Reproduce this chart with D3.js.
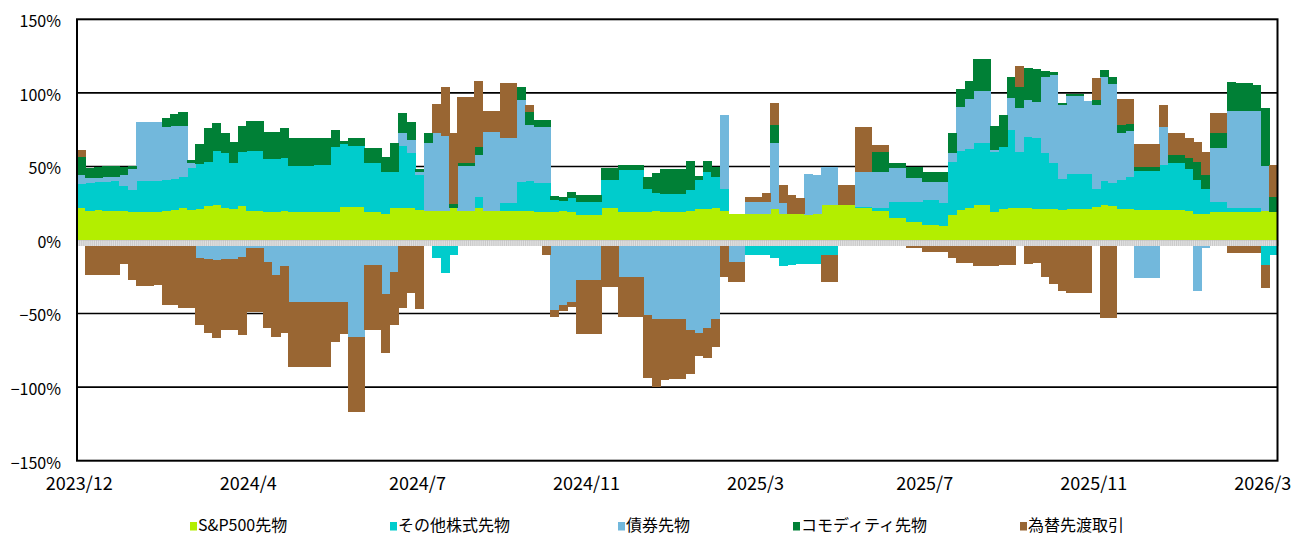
<!DOCTYPE html>
<html>
<head>
<meta charset="utf-8">
<script src="https://cdn.jsdelivr.net/npm/d3@7"></script>
<style>
  body { margin: 0; background: #fff; }
  svg text { font-family: "Noto Sans CJK JP", "Noto Sans", sans-serif; fill: #000; }
</style>
</head>
<body>
<div id="chart"></div>
<script>
// exposure by asset class, % of net assets, one value per bar (about a week each)
const sp500 = [21.5,20,20.4,20,20,19.5,19,19,19,19,20,20.5,21.5,20.4,21,23,23.8,22,21,23.3,
  19.7,19.7,18.8,18.8,20,19.2,19.2,19.2,19.2,19.2,19.2,22.6,22.6,22.6,19.2,19.2,18,21.5,21.5,21.5,
  20.4,19.7,19.7,20,21.7,20,20,21.7,19.5,19.5,20,20,20,20,19,19,19,19.5,19,17,
  17,17,21.5,21.5,19,19,19,19,20,19,19,19,20,21,21,22,20,17.4,17.4,17.5,
  18,18,21,18,18,17.5,17,17.5,23.8,23.8,23.8,23.8,21.5,21.5,20,20,14.7,14.7,12,12,
  10.2,10.2,9.7,17,20.4,22,23.8,23.8,19.2,21,21.5,22,22,21,21,21,20.4,21,21,21,
  22.6,23.8,23,21,21,20.4,20.4,20.4,20.4,20.4,20.4,20,18,18,19.2,19.2,19.2,19.2,19.2,19.2,
  20,19.2];
const otherEquity = [16.5,19,19,19.5,20,17,15,21,21,21,21,21,21,28.6,30.5,30,37,36.8,31,36.7,
  41,41,36.2,36.2,36,31.3,31.3,31.3,31.8,31.8,44,42.4,41.4,41.4,32.8,32.8,28.4,25,42.5,37.3,
  24,0,-12,-22.6,-10,-2,-2,7.3,0,0,5,5,19.5,20,19.5,19.5,8,7,9.5,9,
  9,9,19.2,19.2,28.5,28.5,28.5,16,11.7,12.5,12.5,12.5,14,20,25,21,15,0,0,-10,
  -10,-10,-12,-18,-17,-16,-16,-16,-10,-10,0,0,1,1,2,2,11.3,11.3,14,14,
  16.8,16.8,15.2,36,40,40,41.8,41.8,40.8,42,53,38,48,48,38,31,21,23.6,23.6,23.6,
  12.4,16,16,20,22,26.4,26.4,26.4,30.6,31.6,31.6,28,22.7,17,6.8,6.8,2.3,2.3,2.3,2.3,
  -17,-10];
const bonds = [6,3,3,3,3,8,14,40,40,40,36,36,35,3.6,-12.4,-13,-13.6,-13,-13,-11.3,
  -5.7,-5.7,-15,-23.8,-18,-42,-42,-42,-42,-42,-42,-42,-65.6,-65.6,-17,-17,-37,-22,8.4,9.2,
  2,46,53,51,0,30,30,28.7,54,54,44,44,55.5,38,38.5,38.5,-47.5,-44,-41.9,-27,
  -27,-27,0,0,-25.3,-25.3,-25.3,-51,-53.6,-53.8,-53.8,-53.8,-61,-63.3,-60,-53.8,50,-14.7,-14.7,8,
  8,8,45,7,0,0,28,26.5,26,26,0,0,24,24,24.4,24.4,22.6,22.6,15.9,15.9,
  12.6,12.6,14.7,6,30,34,35.4,35.4,1,0,22,30,25,25,52,60,50.2,53.4,53.4,50,
  56.6,71,67,32,31,-25.6,-25.6,-25.6,26,0,0,0,-34.4,-5.7,36.7,36.7,66.5,66.5,66.5,66.5,
  30,0];
const commodity = [12.5,7,7,7.5,7.5,5,2.5,-1,-1,0,5.6,8,9.3,1.7,14,22.8,19,13.6,14.7,17.6,
  20.2,20.2,18.5,18.5,20,19,19,19,18.5,18.5,11.7,2,5,5,10.7,10.7,10.2,19.6,13.6,12,
  2,7,0,0,3,2.5,2.5,5.3,0,0,0,0,9,9,4.5,4.5,3,3,4,4.5,
  4.5,4.5,8,8,3.5,3.5,3.5,8,13.5,17,17,17,20,2.5,8,6.7,0,0,0,0,
  0,0,12,0,0,0,0,0,0,0,0,0,0,0,13.6,13.6,3.4,3.4,7.9,7.9,
  6.8,6.8,6.8,14,12,12,22,22,16.4,22,14,14,22,22,4,2,1.2,1,1,0,
  3.4,5,5,5,5,3,3,3,0,5.7,5.7,8,12.3,9,9.7,9.7,19.5,19,18.5,17.5,
  40,10.2];
const fxForward = [5,-23.8,-23.8,-23.8,-23.8,-16,-27,-30.5,-30.5,-30.5,-44,-44,-46.4,-46.4,-45.3,-50,-53,-48,-48,-53,
  -43,-43,-45,-42,-45,-44,-44,-44,-44,-44,-27,-22,-51,-51,-44,-44,-40,-36,-46.4,-36,
  -47,0,20,33,48,45,45,45,14,14,37.6,37.6,0,5,0,-10,-5,-4,-3.8,-36.8,
  -36.8,-36.8,-31.7,-31.7,-27.2,-27.2,-27.2,-43,-46,-41.2,-41,-41,-30,-15.4,-20,-18.6,-25,-13.6,-13.6,3.5,
  3.5,6,15,12.3,12.5,11,0,0,-18.3,-18.3,13.5,13.5,30.6,30.6,4.5,4.5,0,0,-5.7,-5.7,
  -8,-8,-8,-12.4,-15.8,-15.8,-18,-18,-18,-17,-17,14,-16.5,-15.8,-25,-30,-35,-36.2,-36.2,-36.2,
  15,-52.7,-52.7,18,17,15.2,15.2,15.2,15,15.1,15.1,13,13.7,16,14.2,14.2,-9,-9,-9,-9,
  -15.8,21.6];

const seriesNames = ["S&P500先物", "その他株式先物", "債券先物", "コモディティ先物", "為替先渡取引"];
const colors = ["#b3ee00", "#00cccc", "#72b8dc", "#008036", "#996633"];
const tickLabels = ["2023/12", "2024/4", "2024/7", "2024/11", "2025/3", "2025/7", "2025/11", "2026/3"];
const labelEvery = 20;
const yTicks = [-150, -100, -50, 0, 50, 100, 150];

const w = 1296, h = 535;
const pLeft = 77, pRight = 1277.5, pTop = 19.3, pBottom = 460.7;
const legendX = [190, 390, 618, 793, 1020];

const keys = ["sp", "eq", "bd", "cm", "fx"];
const rows = sp500.map((d, i) => ({
  sp: d, eq: otherEquity[i], bd: bonds[i], cm: commodity[i], fx: fxForward[i]
}));
const layers = d3.stack().keys(keys).offset(d3.stackOffsetDiverging)(rows);

const x = d3.scaleBand().domain(d3.range(rows.length)).range([pLeft, pRight]);
const y = d3.scaleLinear().domain([-150, 150]).range([pBottom, pTop]);

const svg = d3.select("#chart").append("svg")
  .attr("width", w).attr("height", h);

// gridlines behind the bars
svg.append("g")
  .selectAll("line")
  .data([-100, -50, 50, 100])
  .join("line")
  .attr("x1", pLeft).attr("x2", pRight)
  .attr("y1", d => y(d)).attr("y2", d => y(d))
  .attr("stroke", "#000").attr("stroke-width", 1.6);

// stacked bars
svg.append("g")
  .selectAll("g")
  .data(layers)
  .join("g")
  .attr("fill", (d, k) => colors[k])
  .selectAll("rect")
  .data(d => d)
  .join("rect")
  .attr("x", (d, i) => x(i))
  .attr("width", x.bandwidth() + 0.6)
  .attr("y", d => y(Math.max(d[0], d[1])))
  .attr("height", d => Math.abs(y(d[0]) - y(d[1])))
  .attr("shape-rendering", "crispEdges");

// category axis strip at zero (one tick per trading day, so it reads as a hatch)
svg.append("rect")
  .attr("x", pLeft).attr("y", y(0))
  .attr("width", pRight - pLeft).attr("height", 6)
  .attr("fill", "#e2e2e2");
const dayScale = d3.scaleLinear().domain([0, rows.length * 4]).range([pLeft, pRight]);
const zeroAxis = svg.append("g")
  .attr("transform", `translate(0,${y(0)})`)
  .call(d3.axisBottom(dayScale).tickValues(d3.range(0, rows.length * 4 + 1)).tickSize(6).tickFormat(""));
zeroAxis.select(".domain").attr("stroke", "#cfcfcf");
zeroAxis.selectAll(".tick line").attr("stroke", "#bdbdbd").attr("stroke-width", 0.7);

// frame
svg.append("rect")
  .attr("x", pLeft).attr("y", pTop)
  .attr("width", pRight - pLeft).attr("height", pBottom - pTop)
  .attr("fill", "none").attr("stroke", "#000").attr("stroke-width", 2);

// y axis labels
const yAxis = svg.append("g")
  .attr("transform", `translate(${pLeft},0)`)
  .call(d3.axisLeft(y).tickValues(yTicks).tickSize(0).tickPadding(16)
    .tickFormat(d => (d < 0 ? "\u2212" + Math.abs(d) : d) + "%"));
yAxis.select(".domain").remove();
yAxis.selectAll("text").attr("font-size", 16).attr("dy", "0.46em")
  .style("font-family", '"Noto Sans CJK JP", sans-serif');

// x axis labels
const xAxis = svg.append("g")
  .attr("transform", `translate(-2,${pBottom})`)
  .call(d3.axisBottom(x)
    .tickValues(d3.range(0, rows.length, labelEvery))
    .tickFormat(d => tickLabels[d / labelEvery])
    .tickSize(0));
xAxis.select(".domain").remove();
xAxis.selectAll("text").attr("font-size", 18).attr("y", 29).attr("dy", 0)
  .style("font-family", '"Noto Sans CJK JP", sans-serif');

// legend
const legend = svg.append("g")
  .selectAll("g")
  .data(seriesNames)
  .join("g")
  .attr("transform", (d, k) => `translate(${legendX[k]},0)`);
legend.append("rect")
  .attr("x", 0).attr("y", 522).attr("width", 7).attr("height", 8.5)
  .attr("fill", (d, k) => colors[k]);
legend.append("text")
  .attr("x", 8).attr("y", 531)
  .attr("font-size", 16)
  .text(d => d);
</script>
</body>
</html>
